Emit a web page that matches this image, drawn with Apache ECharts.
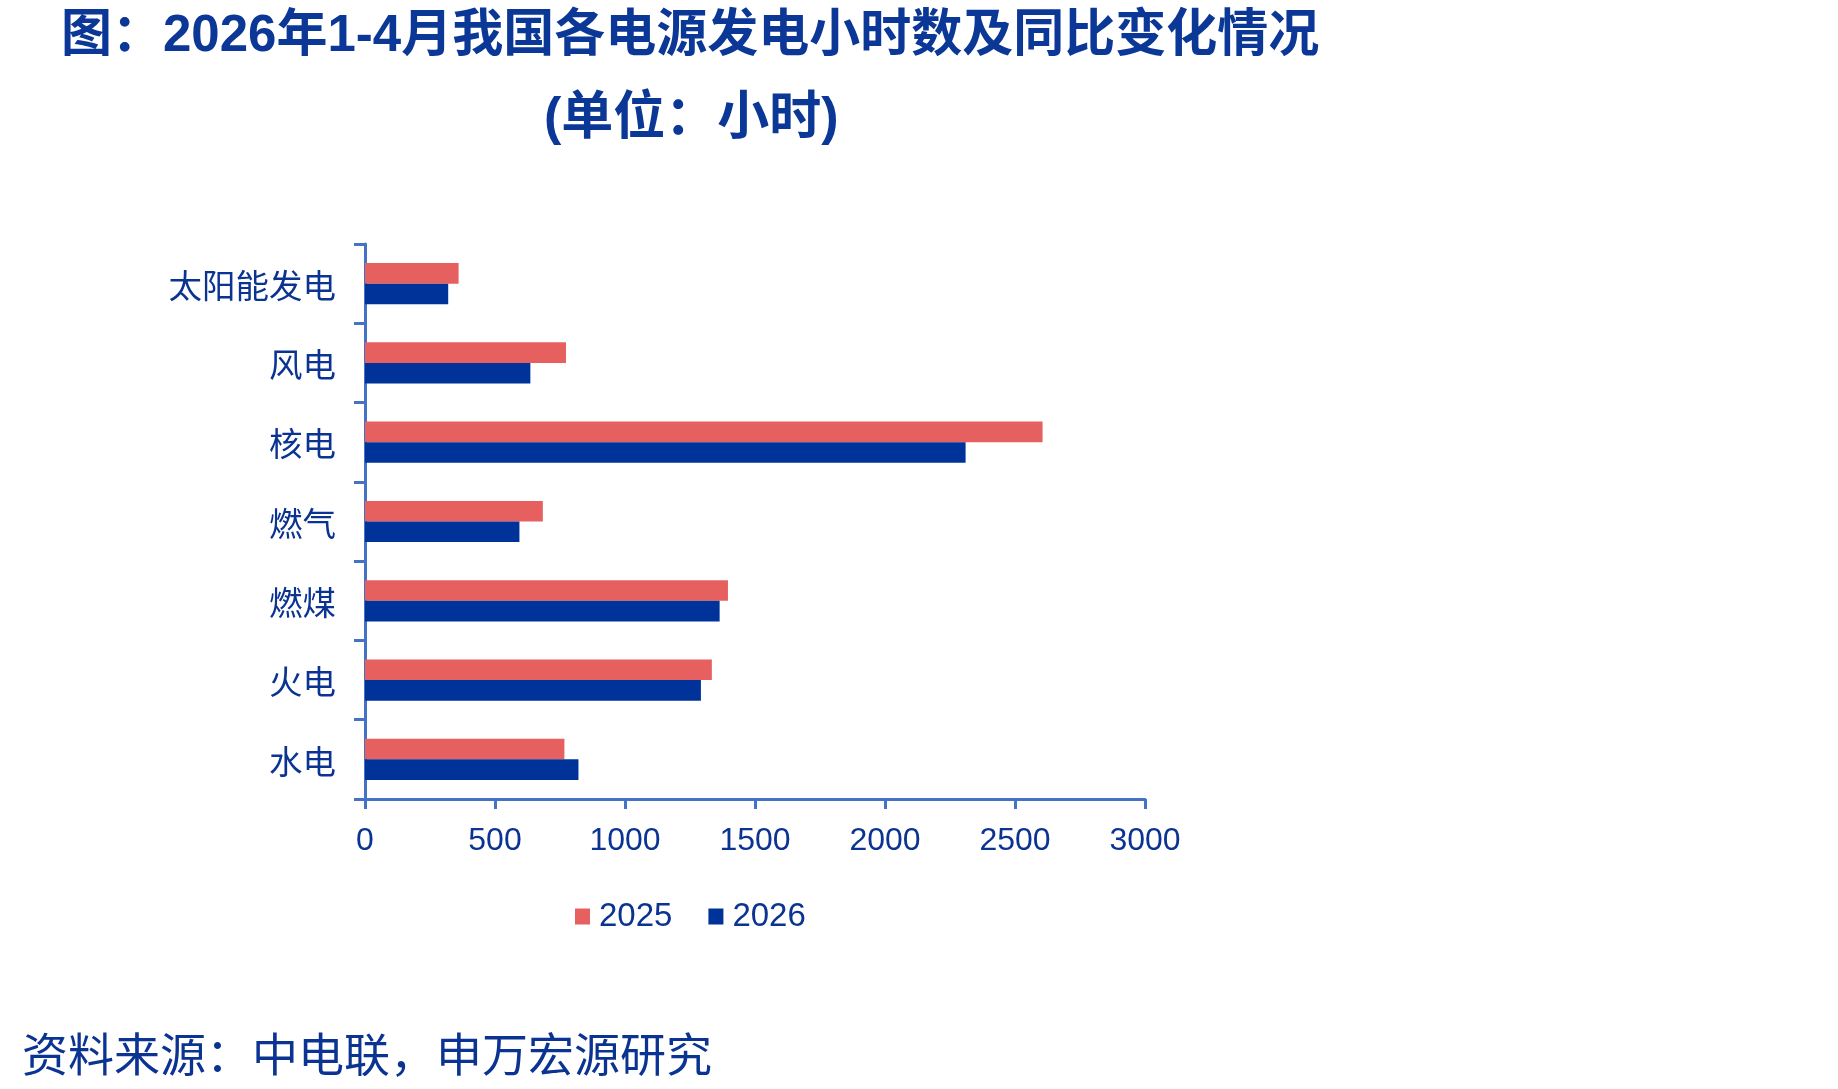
<!DOCTYPE html>
<html>
<head>
<meta charset="utf-8">
<script src="https://cdn.jsdelivr.net/npm/echarts@6/dist/echarts.min.js"></script>
<style>
html,body{margin:0;padding:0;background:#fff;}
#myChart{width:1838px;height:1089px;}
</style>
</head>
<body>
<div id="myChart"></div>
<script>
var categories = ['水电', '火电', '燃煤', '燃气', '核电', '风电', '太阳能发电'];
var hours2025 = [767, 1334, 1396, 684, 2606, 773, 360];
var hours2026 = [821, 1292, 1364, 594, 2310, 636, 320];
var xTicks = [0, 3000, 500];

var txtColor = '#0B3391';
var axisColor = '#4472C4';
var font = '"Liberation Sans", "Noto Sans CJK SC", sans-serif';

var myChart = echarts.init(document.getElementById('myChart'));
var option = {
	backgroundColor: '#fff',
	animation: false,
	title: [{
		text: '图：2026年1-4月我国各电源发电小时数及同比变化情况',
		left: 56,
		top: 6,
		textStyle: { fontSize: 51, fontWeight: 'bold', color: '#0B3796', fontFamily: font }
	}, {
		text: '(单位：小时)',
		left: 539,
		top: 89,
		textStyle: { fontSize: 52, fontWeight: 'bold', color: '#0B3796', fontFamily: font }
	}, {
		text: '资料来源：中电联，申万宏源研究',
		left: 17,
		top: 1030,
		textStyle: { fontSize: 46, fontWeight: 'normal', color: '#0B3391', fontFamily: font }
	}],
	legend: {
		data: ['2025', '2026'],
		left: 570,
		top: 895,
		icon: 'rect',
		itemWidth: 15,
		itemHeight: 16,
		itemGap: 36,
		textStyle: { fontSize: 33, color: txtColor, fontFamily: font, padding: [0, 0, 0, 4] }
	},
	grid: {
		left: 365,
		right: 693,
		top: 244,
		bottom: 290
	},
	xAxis: {
		type: 'value',
		min: xTicks[0],
		max: xTicks[1],
		interval: xTicks[2],
		splitLine: { show: false },
		axisLine: { show: true, lineStyle: { color: axisColor, width: 3 } },
		axisTick: { show: true, length: 10, lineStyle: { color: axisColor, width: 3 } },
		axisLabel: {
			fontSize: 32, color: txtColor, fontFamily: font, margin: 26,
			formatter: function (v) { return String(v); }
		}
	},
	yAxis: {
		type: 'category',
		data: categories,
		axisLine: { show: true, lineStyle: { color: axisColor, width: 3 } },
		axisTick: { show: true, length: 11, lineStyle: { color: axisColor, width: 3 } },
		axisLabel: {
			margin: 29,
			formatter: function (v) { return '{a|' + v + '}'; },
			rich: {
				a: { fontSize: 33.5, color: txtColor, fontFamily: font, padding: [10, 0, 0, 0] }
			}
		}
	},
	series: [{
		name: '2025',
		type: 'bar',
		data: hours2025,
		itemStyle: { color: '#E66060' },
		barGap: '0%',
		barCategoryGap: '48%'
	}, {
		name: '2026',
		type: 'bar',
		data: hours2026,
		itemStyle: { color: '#003399' },
		barGap: '0%',
		barCategoryGap: '48%'
	}]
};
myChart.setOption(option);
</script>
</body>
</html>
